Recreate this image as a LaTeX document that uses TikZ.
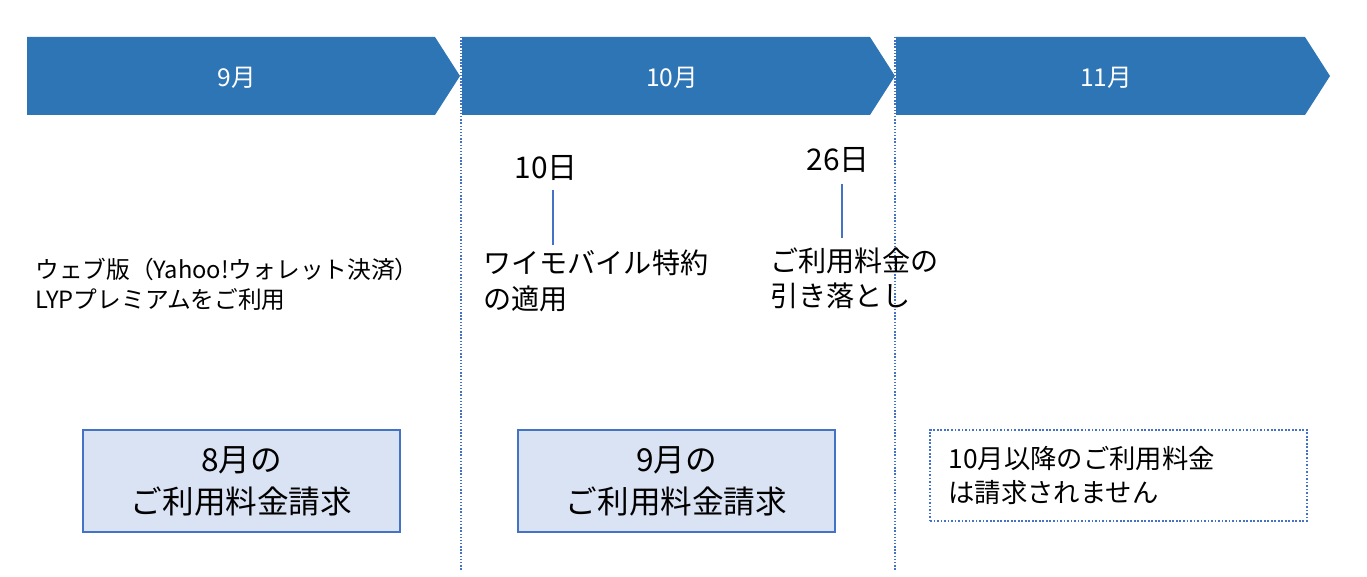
\documentclass[tikz,border=0pt]{standalone}
\usepackage{fontspec}
\setmainfont{Noto Sans CJK JP}
\usetikzlibrary{positioning}
\definecolor{band}{HTML}{2E75B6}
\definecolor{boxfill}{HTML}{DAE3F3}
\definecolor{boxline}{HTML}{4472C4}
\begin{document}
\begin{tikzpicture}[x=0.02cm,y=-0.02cm,
  month/.style={fill=band,draw=none},
  mlabel/.style={text=white,font=\fontsize{14}{16}\selectfont},
  day/.style={font=\fontsize{17}{19}\selectfont},
  tick/.style={draw=boxline,line width=1.5pt},
  note/.style={anchor=north west,align=left,inner sep=0pt},
  bill/.style={draw=boxline,line width=1pt,fill=boxfill,minimum width=317*0.02cm,minimum height=102*0.02cm,align=center,font=\fontsize{18}{24}\selectfont},
  sep/.style={draw=boxline,densely dotted,line width=0.8pt}]
\useasboundingbox (0,0) rectangle (1367,577);
% month bands
\fill[month] (27,37) -- (435,37) -- (460,76) -- (435,115) -- (27,115) -- cycle;
\fill[month] (462,37) -- (870,37) -- (895,76) -- (870,115) -- (462,115) -- cycle;
\fill[month] (896,37) -- (1305,37) -- (1330,76) -- (1305,115) -- (896,115) -- cycle;
\node[mlabel] (m9) at (237,78) {9月};
\node[mlabel] (m10) at (672,78) {10月};
\node[mlabel] (m11) at (1106,78) {11月};
% separators
\coordinate (s1t) at (461,37); \coordinate (s1b) at (461,570);
\coordinate (s2t) at (895,37); \coordinate (s2b) at (895,570);
\draw[sep] (s1t) -- (s1b);
\draw[sep] (s2t) -- (s2b);
% days
\node[day] (d10) at (546,168) {10日};
\node[day] (d26) at (838,160) {26日};
\coordinate (t10) at (553,245);
\coordinate (t26) at (842,238);
\draw[tick] (553,190) -- (t10);
\draw[tick] (842,184) -- (t26);
% notes
\node[note,font=\fontsize{13.5}{17}\selectfont] (use) at (35,258) {ウェブ版（Yahoo!ウォレット決済）\\LYPプレミアムをご利用};
\node[note,font=\fontsize{16}{20}\selectfont] (ym) at (483,250) {ワイモバイル特約\\の適用};
\node[note,font=\fontsize{16}{20}\selectfont] (pay) at (770,247) {ご利用料金の\\引き落とし};
% bills
\node[bill] (b8) at (241.5,481) {8月の\\ご利用料金請求};
\node[bill] (b9) at (676.5,481) {9月の\\ご利用料金請求};
\node[draw=boxline,densely dotted,line width=1pt,minimum width=377*0.02cm,minimum height=91*0.02cm,align=left,text width=340*0.02cm,font=\fontsize{15}{19}\selectfont] (b10) at (1118.5,475.5) {10月以降のご利用料金\\は請求されません};
\end{tikzpicture}
\end{document}
